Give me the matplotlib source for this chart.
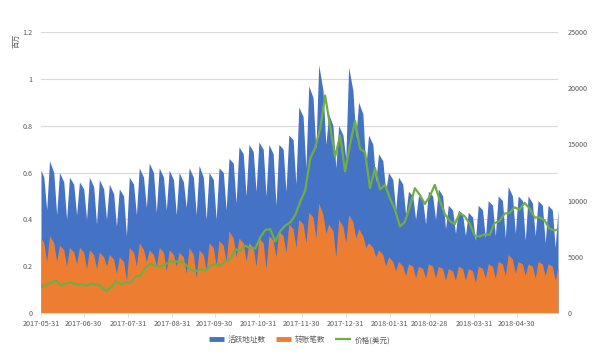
import pandas as pd
import matplotlib
matplotlib.use("Agg")
import matplotlib.pyplot as plt
from matplotlib.lines import Line2D

plt.rcParams['font.family'] = ['Noto Sans CJK SC', 'DejaVu Sans']

# area series: 2017-05-31, then Fri / Sun / Tue of every week
fridays = pd.date_range("2017-06-02", "2018-05-25", freq="7D")
area_dates = pd.DatetimeIndex(
    [pd.Timestamp("2017-05-31")]
    + sorted(list(fridays) + list(fridays + pd.Timedelta(days=2))
             + list(fridays + pd.Timedelta(days=4))))

# active addresses (millions): start, then [Fri, Sun, Tue] per week
active = [0.61,
    0.58, 0.44, 0.65,  0.60, 0.42, 0.60,  0.56, 0.40, 0.58,  0.55, 0.42, 0.56,
    0.53, 0.40, 0.58,  0.54, 0.38, 0.57,  0.53, 0.40, 0.55,  0.51, 0.37, 0.53,
    0.50, 0.33, 0.58,  0.55, 0.42, 0.62,  0.58, 0.45, 0.64,  0.60, 0.43, 0.62,
    0.58, 0.44, 0.61,  0.57, 0.42, 0.60,  0.56, 0.45, 0.62,  0.58, 0.42, 0.63,
    0.58, 0.40, 0.60,  0.57, 0.40, 0.62,  0.60, 0.44, 0.66,  0.64, 0.47, 0.71,
    0.68, 0.50, 0.72,  0.69, 0.52, 0.73,  0.70, 0.50, 0.72,  0.68, 0.46, 0.72,
    0.70, 0.52, 0.76,  0.74, 0.55, 0.88,  0.84, 0.62, 0.97,  0.92, 0.70, 1.06,
    0.95, 0.72, 0.85,  0.80, 0.62, 0.80,  0.76, 0.66, 1.05,  0.95, 0.75, 0.90,
    0.85, 0.62, 0.76,  0.72, 0.56, 0.68,  0.65, 0.52, 0.60,  0.57, 0.44, 0.58,
    0.55, 0.42, 0.52,  0.50, 0.40, 0.50,  0.48, 0.38, 0.52,  0.50, 0.40, 0.53,
    0.50, 0.36, 0.46,  0.44, 0.34, 0.44,  0.42, 0.33, 0.43,  0.41, 0.31, 0.46,
    0.44, 0.32, 0.48,  0.46, 0.33, 0.50,  0.48, 0.32, 0.54,  0.50, 0.34, 0.50,
    0.48, 0.31, 0.50,  0.47, 0.33, 0.48,  0.46, 0.30, 0.46,  0.44, 0.28, 0.44,
]

# transfers (millions): start, then [Fri, Sun, Tue] per week
transfers = [0.32,
    0.30, 0.22, 0.33,  0.30, 0.22, 0.29,  0.27, 0.20, 0.28,  0.26, 0.21, 0.28,
    0.26, 0.19, 0.27,  0.25, 0.19, 0.26,  0.24, 0.20, 0.25,  0.23, 0.17, 0.24,
    0.22, 0.14, 0.28,  0.26, 0.20, 0.30,  0.27, 0.22, 0.27,  0.25, 0.20, 0.28,
    0.26, 0.18, 0.27,  0.25, 0.20, 0.26,  0.24, 0.17, 0.28,  0.25, 0.15, 0.27,
    0.25, 0.18, 0.30,  0.28, 0.20, 0.31,  0.29, 0.22, 0.35,  0.32, 0.24, 0.32,
    0.30, 0.22, 0.30,  0.28, 0.20, 0.32,  0.30, 0.19, 0.33,  0.31, 0.24, 0.35,
    0.33, 0.26, 0.38,  0.36, 0.28, 0.40,  0.38, 0.30, 0.43,  0.41, 0.32, 0.47,
    0.42, 0.34, 0.38,  0.35, 0.24, 0.40,  0.37, 0.30, 0.42,  0.39, 0.32, 0.36,
    0.33, 0.28, 0.30,  0.28, 0.24, 0.27,  0.25, 0.20, 0.24,  0.22, 0.18, 0.22,
    0.20, 0.16, 0.21,  0.20, 0.15, 0.20,  0.19, 0.15, 0.21,  0.20, 0.15, 0.20,
    0.19, 0.14, 0.19,  0.18, 0.14, 0.20,  0.19, 0.14, 0.19,  0.18, 0.13, 0.20,
    0.19, 0.15, 0.21,  0.20, 0.15, 0.22,  0.21, 0.16, 0.25,  0.23, 0.17, 0.22,
    0.21, 0.16, 0.21,  0.20, 0.15, 0.22,  0.21, 0.16, 0.21,  0.20, 0.14, 0.20,
]

# price (USD), sampled every 3.5 days
price_dates = pd.date_range("2017-05-31", periods=105, freq="84h")
price = [
    2300, 2520, 2700, 2900, 2450, 2650, 2700, 2550, 2570, 2420,
    2600, 2550, 2400, 1950, 2270, 2830, 2560, 2720, 2700, 3230,
    3340, 4060, 4380, 4190, 4150, 4350, 4580, 4580, 4600, 4330,
    3880, 3700, 3900, 3780, 4200, 4340, 4230, 4610, 4820, 5650,
    5570, 6000, 5740, 5750, 6740, 7400, 7450, 6360, 7280, 7780,
    8060, 8700, 9900, 10900, 13750, 14700, 16400, 19350, 16600, 13900,
    15800, 12600, 15000, 17100, 14600, 14300, 11100, 12900, 11000, 11400,
    10200, 9200, 7700, 8100, 9500, 11100, 10500, 9700, 10400, 11400,
    10000, 8800, 8200, 7900, 8900, 8600, 7950, 6900, 6800, 7000,
    6950, 8000, 8200, 8850, 8900, 9400, 9200, 9800, 9300, 8500,
    8500, 8250, 7500, 7350, 7450,
]

tick_dates = ["2017-05-31", "2017-06-30", "2017-07-31", "2017-08-31",
              "2017-09-30", "2017-10-31", "2017-11-30", "2017-12-31",
              "2018-01-31", "2018-02-28", "2018-03-31", "2018-04-30"]

labels = ["活跃地址数", "转账笔数", "价格(美元)"]
blue, orange, green = "#4472C4", "#ED7D31", "#70AD47"
gray = "#595959"

fig = plt.figure(figsize=(5.99, 3.58), dpi=100)
ax = fig.add_axes([0.0684, 0.1257, 0.8632, 0.7849])
ax2 = ax.twinx()

ax.fill_between(area_dates, active, color=blue, lw=0)
ax.fill_between(area_dates, transfers, color=orange, lw=0)
ax2.plot(price_dates, price, color=green, lw=1.6)

ax.set_xlim(pd.Timestamp("2017-05-31"), area_dates[-1])
ax.set_ylim(0, 1.2)
ax.set_yticks([0, 0.2, 0.4, 0.6, 0.8, 1.0, 1.2])
ax.set_yticklabels(["0", "0.2", "0.4", "0.6", "0.8", "1", "1.2"])
ax2.set_ylim(0, 25000)
ax2.set_yticks(range(0, 25001, 5000))

ax.set_xticks(pd.to_datetime(tick_dates))
ax.set_xticklabels(tick_dates)

ax.set_axisbelow(True)
ax.grid(axis="y", color="#D9D9D9", lw=0.8)
for a in (ax, ax2):
    for s in a.spines.values():
        s.set_visible(False)
ax.spines["bottom"].set_visible(True)
ax.spines["bottom"].set_color("#D9D9D9")
ax.tick_params(axis="x", colors=gray, labelsize=5.2, length=3, width=0.6,
               color="#D9D9D9", pad=2)
ax.tick_params(axis="y", colors=gray, labelsize=5.2, length=0, pad=6)
ax2.tick_params(axis="y", colors=gray, labelsize=5.2, length=0, pad=7)
for t in ax.get_xticklabels():
    t.set_color(gray)

fig.text(0.027, 0.885, "百万", rotation=90, fontsize=5.2, color=gray,
         ha="center", va="center")

handles = [Line2D([], [], color=blue, lw=3.5, solid_capstyle="butt"),
           Line2D([], [], color=orange, lw=3.5, solid_capstyle="butt"),
           Line2D([], [], color=green, lw=1.6, solid_capstyle="butt")]
leg = fig.legend(handles, labels, loc="center", bbox_to_anchor=(0.5, 0.05),
                 ncol=3, frameon=False, fontsize=5.5, handlelength=2.0,
                 columnspacing=1.3, handletextpad=0.5)
for t in leg.get_texts():
    t.set_color(gray)

fig.savefig("out.png", dpi=100)
